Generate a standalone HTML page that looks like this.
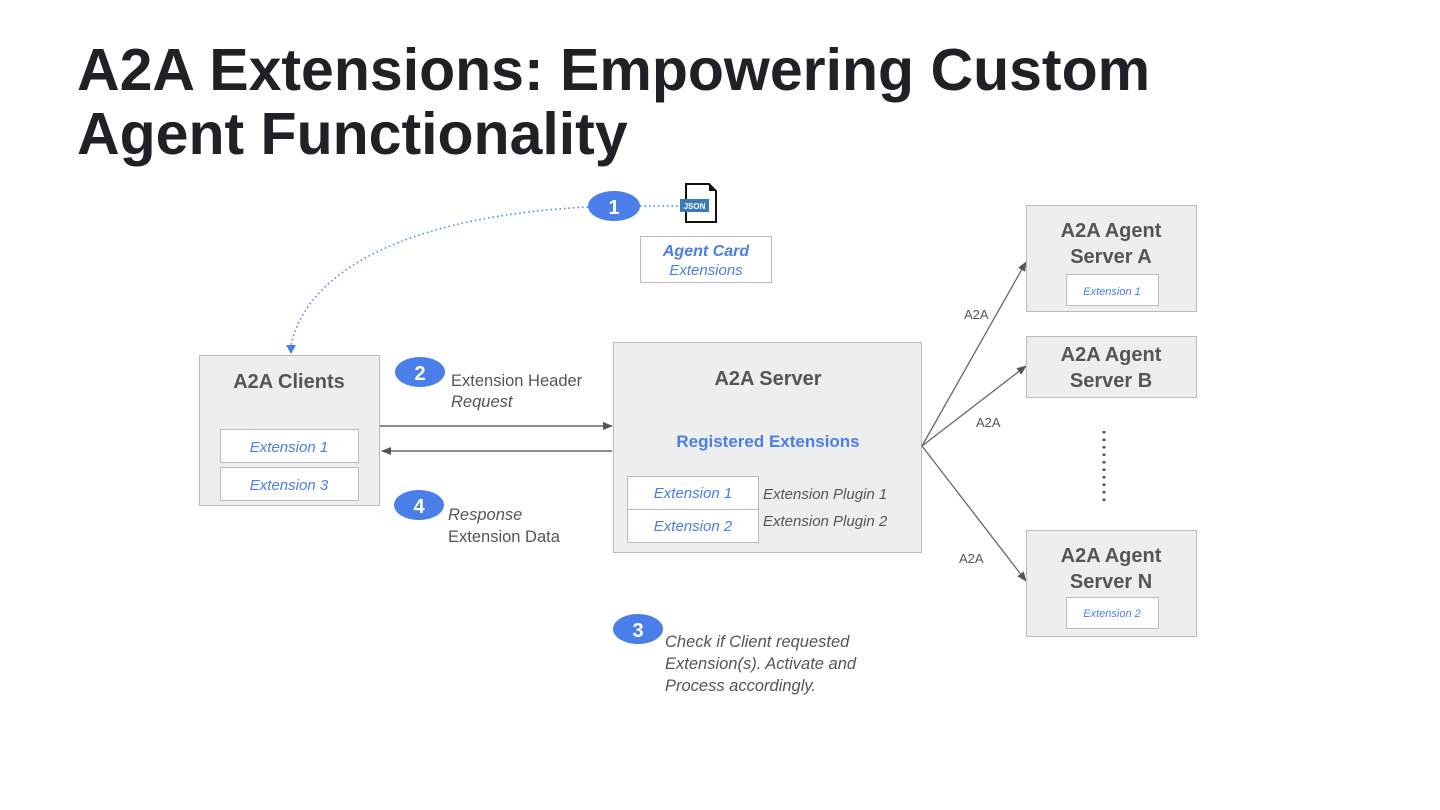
<!DOCTYPE html>
<html><head><meta charset="utf-8"><style>
html,body{margin:0;padding:0;background:#fff;}
body{width:1440px;height:810px;overflow:hidden;position:relative;font-family:"Liberation Sans",sans-serif;}
h1{position:absolute;left:77px;top:38px;margin:0;font-size:59px;line-height:64px;font-weight:bold;color:#202124;letter-spacing:0px;}
svg{position:absolute;left:0;top:0;}
</style></head><body>
<h1>A2A Extensions: Empowering Custom<br>Agent Functionality</h1>
<svg width="1440" height="810" font-family="Liberation Sans, sans-serif">
<defs>
<marker id="ar" markerWidth="10" markerHeight="8" refX="9" refY="4" orient="auto" markerUnits="userSpaceOnUse"><path d="M0,0L10,4L0,8z" fill="#555"/></marker>
</defs>
<path d="M588,207 C430,215 310,260 291,345" fill="none" stroke="#4a7ee8" stroke-width="1.5" stroke-dasharray="1.5,3"/>
<path d="M286,345 L296,345 L291,354z" fill="#4a7ee8"/>
<line x1="640" y1="206" x2="680" y2="206" stroke="#4a7ee8" stroke-width="1.5" stroke-dasharray="1.5,3"/>
<ellipse cx="614" cy="206" rx="26" ry="15" fill="#4a7ee8"/>
<text x="614" y="214" font-size="20" font-weight="bold" fill="#fff" text-anchor="middle">1</text>
<path d="M686,184 L709,184 L716,191 L716,222 L686,222 Z" fill="#fff" stroke="#111" stroke-width="2"/>
<path d="M709,184 L716,191 L709,191Z" fill="#111"/>
<rect x="680" y="199" width="29" height="13" fill="#3a7bbf"/>
<text x="694.5" y="209" font-size="8" font-weight="bold" fill="#fff" text-anchor="middle">JSON</text>
<rect x="640.5" y="236.5" width="131" height="46" fill="#fff" stroke="#bbb"/>
<text x="706" y="256" font-size="16" font-style="italic" font-weight="bold" fill="#4a7ee8" text-anchor="middle">Agent Card</text>
<text x="706" y="275" font-size="15" font-style="italic" fill="#4a7ee8" text-anchor="middle">Extensions</text>
<rect x="199.5" y="355.5" width="180" height="150" fill="#eeeeee" stroke="#bbb"/>
<text x="289" y="388" font-size="20" font-weight="bold" fill="#555" text-anchor="middle">A2A Clients</text>
<rect x="220.5" y="429.5" width="138" height="33" fill="#fff" stroke="#bbb"/>
<text x="289" y="452" font-size="15" font-style="italic" fill="#4a7ee8" text-anchor="middle">Extension 1</text>
<rect x="220.5" y="467.5" width="138" height="33" fill="#fff" stroke="#bbb"/>
<text x="289" y="490" font-size="15" font-style="italic" fill="#4a7ee8" text-anchor="middle">Extension 3</text>
<ellipse cx="420" cy="372" rx="25" ry="15" fill="#4a7ee8"/>
<text x="420" y="380" font-size="20" font-weight="bold" fill="#fff" text-anchor="middle">2</text>
<text x="451" y="386" font-size="16.5" fill="#555">Extension Header</text>
<text x="451" y="407" font-size="16.5" font-style="italic" fill="#555">Request</text>
<line x1="380" y1="426" x2="612" y2="426" stroke="#666" stroke-width="1.5" marker-end="url(#ar)"/>
<line x1="612" y1="451" x2="382" y2="451" stroke="#666" stroke-width="1.5" marker-end="url(#ar)"/>
<ellipse cx="419" cy="505" rx="25" ry="15" fill="#4a7ee8"/>
<text x="419" y="513" font-size="20" font-weight="bold" fill="#fff" text-anchor="middle">4</text>
<text x="448" y="520" font-size="16.5" font-style="italic" fill="#555">Response</text>
<text x="448" y="542" font-size="16.5" fill="#555">Extension Data</text>
<rect x="613.5" y="342.5" width="308" height="210" fill="#eeeeee" stroke="#bbb"/>
<text x="768" y="385" font-size="20" font-weight="bold" fill="#555" text-anchor="middle">A2A Server</text>
<text x="768" y="447" font-size="17" font-weight="bold" fill="#4a7ee8" text-anchor="middle">Registered Extensions</text>
<rect x="627.5" y="476.5" width="131" height="33" fill="#fff" stroke="#bbb"/>
<text x="693" y="498" font-size="15" font-style="italic" fill="#4a7ee8" text-anchor="middle">Extension 1</text>
<rect x="627.5" y="509.5" width="131" height="33" fill="#fff" stroke="#bbb"/>
<text x="693" y="531" font-size="15" font-style="italic" fill="#4a7ee8" text-anchor="middle">Extension 2</text>
<text x="763" y="499" font-size="15" font-style="italic" fill="#555">Extension Plugin 1</text>
<text x="763" y="526" font-size="15" font-style="italic" fill="#555">Extension Plugin 2</text>
<ellipse cx="638" cy="629" rx="25" ry="15" fill="#4a7ee8"/>
<text x="638" y="637" font-size="20" font-weight="bold" fill="#fff" text-anchor="middle">3</text>
<text x="665" y="647" font-size="16.5" font-style="italic" fill="#555">Check if Client requested</text>
<text x="665" y="669" font-size="16.5" font-style="italic" fill="#555">Extension(s). Activate and</text>
<text x="665" y="691" font-size="16.5" font-style="italic" fill="#555">Process accordingly.</text>
<line x1="922" y1="446" x2="1026" y2="262" stroke="#666" stroke-width="1.3" marker-end="url(#ar)"/>
<line x1="922" y1="446" x2="1026" y2="366" stroke="#666" stroke-width="1.3" marker-end="url(#ar)"/>
<line x1="922" y1="446" x2="1026" y2="581" stroke="#666" stroke-width="1.3" marker-end="url(#ar)"/>
<text x="964" y="319" font-size="13" fill="#555">A2A</text>
<text x="976" y="427" font-size="13" fill="#555">A2A</text>
<text x="959" y="563" font-size="13" fill="#555">A2A</text>
<rect x="1026.5" y="205.5" width="170" height="106" fill="#eeeeee" stroke="#bbb"/>
<text x="1111" y="237" font-size="20" font-weight="bold" fill="#555" text-anchor="middle">A2A Agent</text>
<text x="1111" y="263" font-size="20" font-weight="bold" fill="#555" text-anchor="middle">Server A</text>
<rect x="1066.5" y="274.5" width="92" height="31" fill="#fff" stroke="#bbb"/>
<text x="1112" y="295" font-size="11" font-style="italic" fill="#4a7ee8" text-anchor="middle">Extension 1</text>
<rect x="1026.5" y="336.5" width="170" height="61" fill="#eeeeee" stroke="#bbb"/>
<text x="1111" y="361" font-size="20" font-weight="bold" fill="#555" text-anchor="middle">A2A Agent</text>
<text x="1111" y="387" font-size="20" font-weight="bold" fill="#555" text-anchor="middle">Server B</text>
<line x1="1104" y1="431" x2="1104" y2="502" stroke="#555" stroke-width="3" stroke-dasharray="2.5,5"/>
<rect x="1026.5" y="530.5" width="170" height="106" fill="#eeeeee" stroke="#bbb"/>
<text x="1111" y="562" font-size="20" font-weight="bold" fill="#555" text-anchor="middle">A2A Agent</text>
<text x="1111" y="588" font-size="20" font-weight="bold" fill="#555" text-anchor="middle">Server N</text>
<rect x="1066.5" y="597.5" width="92" height="31" fill="#fff" stroke="#bbb"/>
<text x="1112" y="617" font-size="11" font-style="italic" fill="#4a7ee8" text-anchor="middle">Extension 2</text>
</svg>
</body></html>
